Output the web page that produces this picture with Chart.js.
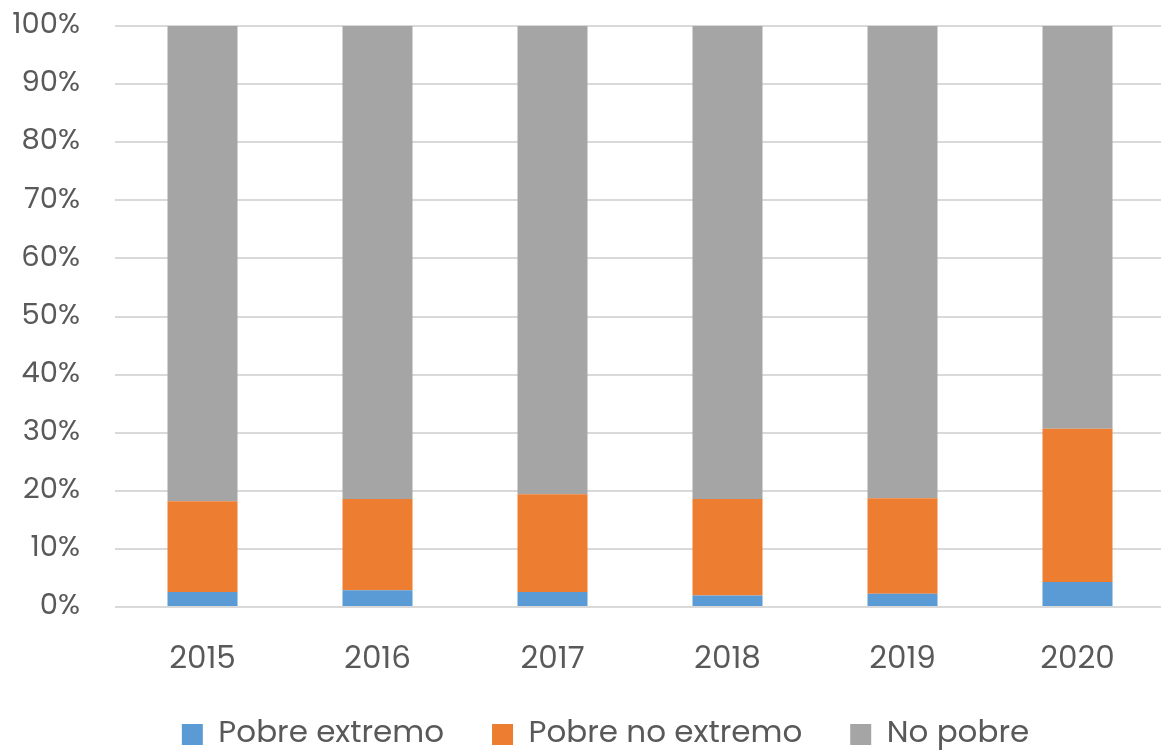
<!DOCTYPE html>
<html>
<head>
<meta charset="utf-8">
<script src="https://cdn.jsdelivr.net/npm/chart.js@4"></script>
<style>
  html, body { margin: 0; padding: 0; background: #fff; overflow: hidden; }
  #wrap { width: 1165px; height: 753px; }
</style>
</head>
<body>
<div id="wrap"><canvas id="chart"></canvas></div>
<script>
const years = ["2015", "2016", "2017", "2018", "2019", "2020"];
const pobreExtremo = [2.6, 2.9, 2.6, 2.0, 2.3, 4.3];
const pobreNoExtremo = [15.6, 15.7, 16.8, 16.6, 16.4, 26.4];
const noPobre = [81.8, 81.4, 80.6, 81.4, 81.3, 69.3];
const yTicks = [0, 10, 20, 30, 40, 50, 60, 70, 80, 90, 100];

const fontFamily = "Poppins, 'Open Sans', sans-serif";

// nudge the legend a bit right and up, like in the original
const legendNudge = {
    id: "legendNudge",
    afterLayout(chart) {
        const lg = chart.legend;
        lg.left += 23; lg.right += 23;
        lg.top -= 16; lg.bottom -= 16;
    },
};

const ctx = document.querySelector("#chart").getContext("2d");

new Chart(ctx, {
    type: "bar",
    data: {
        labels: years,
        datasets: [
            { label: "Pobre extremo", data: pobreExtremo, backgroundColor: "#5B9BD5" },
            { label: "Pobre no extremo", data: pobreNoExtremo, backgroundColor: "#ED7D31" },
            { label: "No pobre", data: noPobre, backgroundColor: "#A5A5A5" },
        ],
    },
    plugins: [legendNudge],
    options: {
        responsive: true,
        maintainAspectRatio: false,
        animation: false,
        layout: { padding: { top: 0, left: 0, right: 0, bottom: -23 } },
        datasets: { bar: { barPercentage: 0.4, categoryPercentage: 1 } },
        scales: {
            x: {
                stacked: true,
                grid: { display: false },
                border: { display: false },
                ticks: { color: "#595959", font: { family: fontFamily, size: 31 }, padding: 27 },
                afterFit: axis => { axis.height = 80; },
            },
            y: {
                stacked: true,
                min: 0,
                max: 100,
                afterBuildTicks: axis => { axis.ticks = yTicks.map(v => ({ value: v })); },
                afterFit: axis => {
                    axis.width = 115;
                    axis.paddingTop = 26;
                    axis.paddingBottom = 0;
                },
                grid: { color: "#d9d9d9", lineWidth: 2, drawTicks: false },
                border: { display: false },
                ticks: { color: "#595959", font: { family: fontFamily, size: 29 }, padding: 35, callback: v => v + "%" },
            },
        },
        plugins: {
            legend: {
                position: "bottom",
                labels: {
                    color: "#595959",
                    font: { family: fontFamily, size: 31 },
                    boxWidth: 21,
                    boxHeight: 21,
                    padding: 48,
                    useBorderRadius: false,
                },
            },
            tooltip: { enabled: false },
        },
    },
});
</script>
</body>
</html>
